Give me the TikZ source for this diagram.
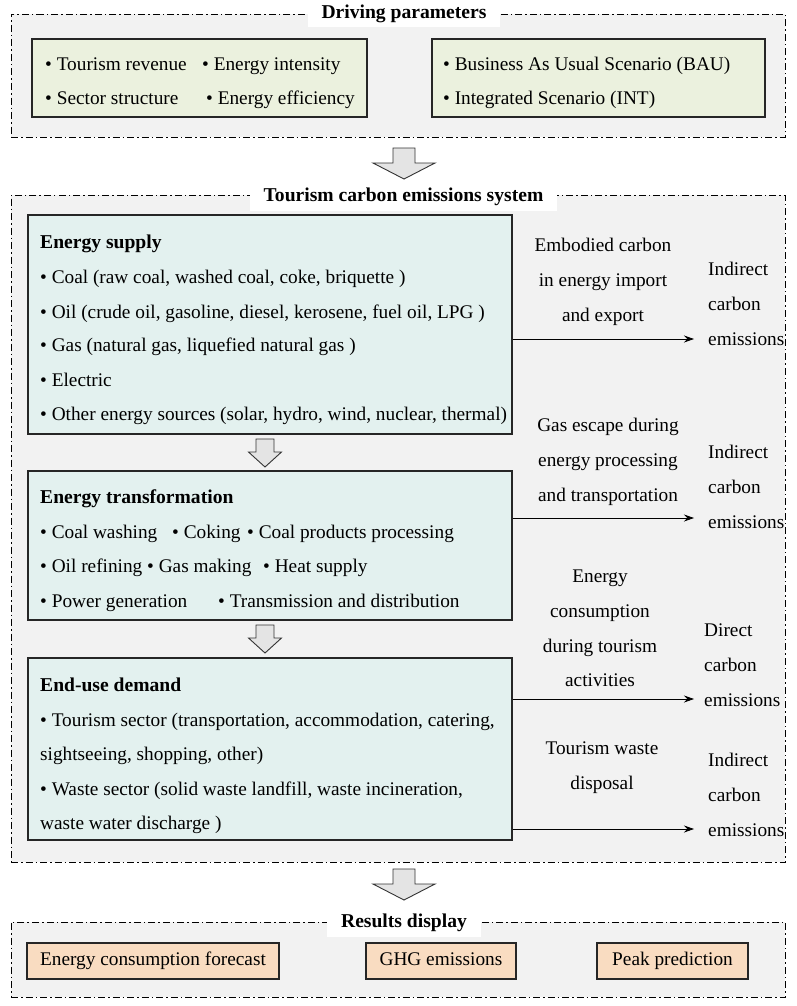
\documentclass[tikz,border=0pt]{standalone}
\usepackage{fontspec}
\setmainfont{Liberation Serif}
\usetikzlibrary{arrows.meta}
\definecolor{bggray}{HTML}{F2F2F2}
\definecolor{yfill}{HTML}{EBF1DE}
\definecolor{cfill}{HTML}{E3F1EF}
\definecolor{pfill}{HTML}{F9DCC1}
\definecolor{afill}{HTML}{E4E4E4}
\begin{document}
\begin{tikzpicture}[x=1pt,y=-1pt,
  font=\fontsize{19.3}{34.7}\selectfont,
  outerbox/.style={draw=black, fill=bggray, line width=0.9pt, dash pattern=on 7pt off 3pt on 1.5pt off 3pt, inner sep=0pt},
  titlebox/.style={fill=white, font=\fontsize{19.6}{22}\selectfont\bfseries, inner xsep=14pt, minimum height=27pt},
  ybox/.style={draw=black!85, fill=yfill, line width=1.3pt, inner sep=0pt},
  cbox/.style={draw=black!85, fill=cfill, line width=1.3pt, inner sep=0pt},
  pbox/.style={draw=black!85, fill=pfill, line width=1.3pt, inner sep=0pt, minimum height=36pt, text height=13.5pt, text depth=4pt},
  txt/.style={anchor=base west, inner sep=0pt},
  head/.style={anchor=base west, inner sep=0pt, font=\fontsize{19.6}{22}\selectfont\bfseries},
  lbl/.style={align=center, inner sep=0pt},
  rlbl/.style={align=left, inner sep=0pt, anchor=west},
  flow/.style={-{Stealth[length=10pt,width=7pt]}, line width=0.8pt},
  barrow/.style={draw=black!80, fill=afill, line width=0.9pt, line join=miter},
  bigarrow/.pic={\draw[barrow] (-11,0) -- (11,0) -- (11,15) -- (31,15) -- (0,31) -- (-31,15) -- (-11,15) -- cycle;},
  smallarrow/.pic={\draw[barrow] (-9,0) -- (9,0) -- (9,13) -- (16.5,13) -- (0,28) -- (-16.5,13) -- (-9,13) -- cycle;}
]
\useasboundingbox[fill=white] (0,0) rectangle (797,1006);

% ---------- Driving parameters ----------
\node[outerbox, minimum width=774pt, minimum height=123pt] (drive) at (398,75.5) {};
\node[titlebox] (drivetitle) at (404,13.5) {Driving parameters};
\node[ybox, minimum width=335pt, minimum height=78pt] (params) at (199.5,78) {};
\node[ybox, minimum width=333pt, minimum height=78pt] (scen) at (598.5,78) {};
\node[txt] (p1) at (45,71) {• Tourism revenue};
\node[txt] (p2) at (202,71) {• Energy intensity};
\node[txt] (p3) at (45,105) {• Sector structure};
\node[txt] (p4) at (206,105) {• Energy efficiency};
\node[txt] (s1) at (443,71) {• Business As Usual Scenario (BAU)};
\node[txt] (s2) at (443,105) {• Integrated Scenario (INT)};

\pic at (404,148) {bigarrow};

% ---------- Tourism carbon emissions system ----------
\node[outerbox, minimum width=774pt, minimum height=667pt] (sys) at (398,528.5) {};
\node[titlebox] (systitle) at (403.5,197) {Tourism carbon emissions system};

\node[cbox, minimum width=484pt, minimum height=219pt] (supply) at (270,324.5) {};
\node[head] (supplyh) at (40,248) {Energy supply};
\node[txt] (su1) at (40,283) {• Coal (raw coal, washed coal, coke, briquette )};
\node[txt] (su2) at (40,318) {• Oil (crude oil, gasoline, diesel, kerosene, fuel oil, LPG )};
\node[txt] (su3) at (40,351) {• Gas (natural gas, liquefied natural gas )};
\node[txt] (su4) at (40,386) {• Electric};
\node[txt] (su5) at (40,420) {• Other energy sources (solar, hydro, wind, nuclear, thermal)};

\pic at (265,439) {smallarrow};

\node[cbox, minimum width=484pt, minimum height=149pt] (trans) at (270,545.5) {};
\node[head] (transh) at (40,503) {Energy transformation};
\node[txt] (t1) at (40,538) {• Coal washing};
\node[txt] (t2) at (172,538) {• Coking};
\node[txt] (t3) at (247,538) {• Coal products processing};
\node[txt] (t4) at (40,572) {• Oil refining};
\node[txt] (t5) at (147,572) {• Gas making};
\node[txt] (t6) at (263,572) {• Heat supply};
\node[txt] (t7) at (40,607) {• Power generation};
\node[txt] (t8) at (218,607) {• Transmission and distribution};

\pic at (265,625) {smallarrow};

\node[cbox, minimum width=484pt, minimum height=182pt] (enduse) at (270,749) {};
\node[head] (enduseh) at (40,691) {End-use demand};
\node[txt] (e1) at (40,726) {• Tourism sector (transportation, accommodation, catering,};
\node[txt] (e2) at (40,760) {sightseeing, shopping, other)};
\node[txt] (e3) at (40,795) {• Waste sector (solid waste landfill, waste incineration,};
\node[txt] (e4) at (40,829) {waste water discharge )};

% right-hand labels and flows
\node[lbl] (l1) at (603,282) {Embodied carbon\\in energy import\\and export};
\node[rlbl] (r1) at (708,304) {Indirect\\carbon\\emissions};
\node[lbl] (l2) at (608,462) {Gas escape during\\energy processing\\and transportation};
\node[rlbl] (r2) at (708,487) {Indirect\\carbon\\emissions};
\node[lbl] (l3) at (600,628.5) {Energy\\consumption\\during tourism\\activities};
\node[rlbl] (r3) at (704,665) {Direct\\carbon\\emissions};
\node[lbl] (l4) at (602,767.5) {Tourism waste\\disposal};
\node[rlbl] (r4) at (708,795) {Indirect\\carbon\\emissions};

\coordinate (f1s) at (supply.east |- 0,339);
\coordinate (f1e) at (694,339);
\coordinate (f2s) at (trans.east |- 0,518);
\coordinate (f2e) at (694,518);
\coordinate (f3s) at (enduse.east |- 0,699);
\coordinate (f3e) at (694,699);
\coordinate (f4s) at (enduse.east |- 0,829);
\coordinate (f4e) at (694,829);
\draw[flow] (f1s) -- (f1e);
\draw[flow] (f2s) -- (f2e);
\draw[flow] (f3s) -- (f3e);
\draw[flow] (f4s) -- (f4e);

\pic at (404,869) {bigarrow};

% ---------- Results display ----------
\node[outerbox, minimum width=774pt, minimum height=75pt] (res) at (398,959.5) {};
\node[titlebox] (restitle) at (404,923) {Results display};
\node[pbox, minimum width=252pt] (r1box) at (153,961) {Energy consumption forecast};
\node[pbox, minimum width=150pt] (r2box) at (441,961) {GHG emissions};
\node[pbox, minimum width=151pt] (r3box) at (672.5,961) {Peak prediction};
\end{tikzpicture}
\end{document}
